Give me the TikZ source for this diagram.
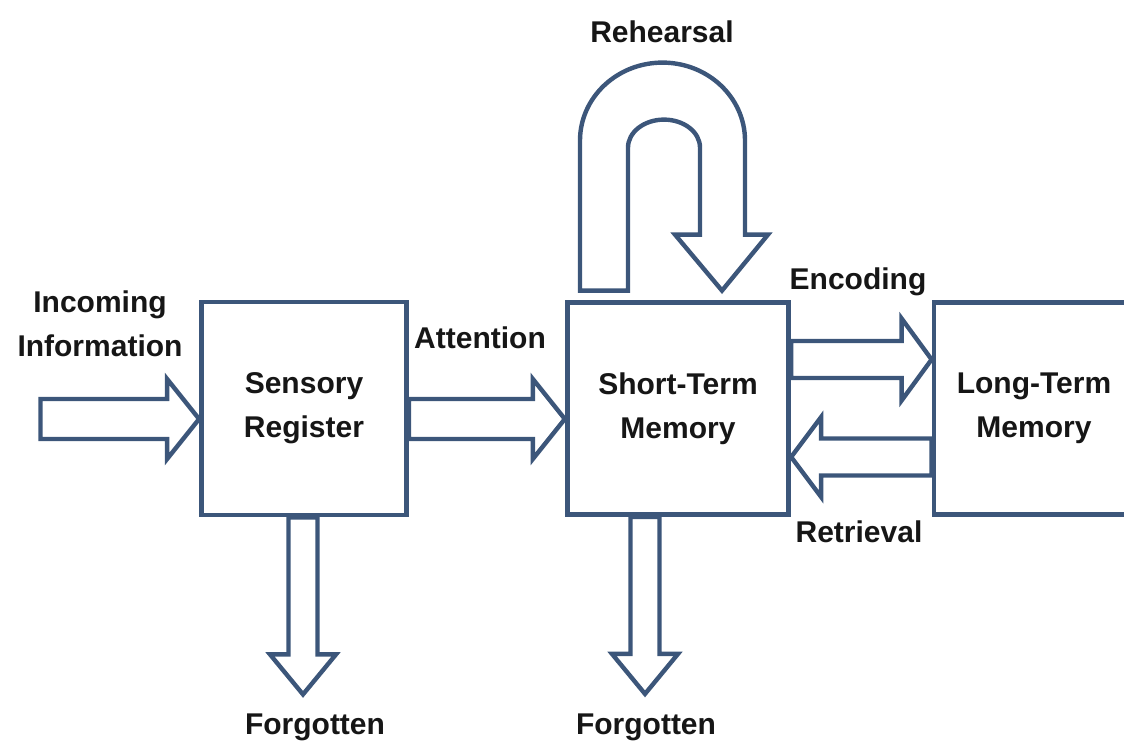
\documentclass[tikz,border=0pt]{standalone}
\usepackage{fontspec}
\setmainfont{Liberation Sans}
\usetikzlibrary{calc,positioning}
\definecolor{boxblue}{RGB}{60,86,122}
\definecolor{inkblack}{RGB}{22,22,22}
\tikzset{memory box/.style={draw=boxblue, line width=2.4pt, fill=white,
           align=center, text=inkblack, inner sep=0pt,
           font=\bfseries\fontsize{15}{22}\selectfont},
     block arrow/.style={draw=boxblue, line width=2.2pt, line join=miter},
     stage label/.style={text=inkblack, align=center, inner sep=0pt,
           font=\bfseries\fontsize{15}{22}\selectfont}
     }
% horizontal block arrow: tail #1, tip #2, shaft half #3, head half #4, head length #5
\def\SideArrow#1#2#3#4#5{%
 \draw[block arrow] ($(#1)-(0,#3)$) -- ($(#2)-(#5,#3)$) -- ($(#2)-(#5,#4)$) -- (#2)
   -- ($(#2)-(#5,-#4)$) -- ($(#2)-(#5,-#3)$) -- ($(#1)+(0,#3)$) -- cycle;
}
% downward block arrow, same arguments
\def\DropArrow#1#2#3#4#5{%
 \draw[block arrow] ($(#1)-(#3,0)$) -- ($(#2)-(#3,#5)$) -- ($(#2)-(#4,#5)$) -- (#2)
   -- ($(#2)+(#4,-#5)$) -- ($(#2)+(#3,-#5)$) -- ($(#1)+(#3,0)$) -- cycle;
}

\begin{document}
\begin{tikzpicture}[x=0.5pt, y=-0.5pt]
\useasboundingbox (0,0) rectangle (1124,748);

% stores
\node[memory box, minimum width=102.5pt, minimum height=106.5pt] (sensory) at (304,408.5) {Sensory\\Register};
\node[memory box, minimum width=110.75pt, minimum height=106pt] (stm) at (678,408.5) {Short-Term\\Memory};
\node[memory box, minimum width=100pt, minimum height=106pt] (ltm) at (1034,408.5) {Long-Term\\Memory};

% labels
\node[stage label] (incoming) at (100,324) {Incoming\\Information};
\node[stage label] (attention) at (480,338) {Attention};
\node[stage label] (rehearsal) at (662,32) {Rehearsal};
\node[stage label] (encoding) at (858,282) {Encoding};
\node[stage label] (retrieval) at (859,532) {Retrieval};
\node[stage label] (goneA) at (315,727) {Forgotten};
\node[stage label] (goneB) at (646,727) {Forgotten};

% flow
\coordinate (inflow) at (40.5,419);
\coordinate (inTip) at ($(sensory.west)+(0,10.5)$);
\SideArrow{inflow}{inTip}{20}{40}{32}
\coordinate (attTail) at ($(sensory.east)+(0,10.5)$);
\coordinate (attTip) at ($(stm.west)+(0,10.5)$);
\SideArrow{attTail}{attTip}{20}{40}{32}
\coordinate (encTail) at ($(stm.east)+(0,-49)$);
\coordinate (encTip) at ($(ltm.west)+(0,-49)$);
\SideArrow{encTail}{encTip}{18.5}{41}{30}
\coordinate (retTail) at ($(ltm.west)+(0,48.5)$);
\coordinate (retTip) at ($(stm.east)+(0,48.5)$);
\SideArrow{retTail}{retTip}{18.5}{40}{-30}

% decay
\coordinate (dropA) at ($(sensory.south)+(-1,0)$);
\coordinate (dropTipA) at ($(sensory.south)+(-1,177)$);
\DropArrow{dropA}{dropTipA}{14.5}{33}{40}
\coordinate (dropB) at ($(stm.south)+(-33,0)$);
\coordinate (dropTipB) at ($(stm.south)+(-33,177)$);
\DropArrow{dropB}{dropTipB}{14.5}{33}{40}

% rehearsal loop back into short-term memory
\begin{scope}[shift={(stm.north)}]
  \draw[block arrow] (-98,-9.5) -- (-98,-159.5)
    arc[start angle=180, end angle=360, x radius=82.5, y radius=78]
    -- (67,-65.5) -- (90,-65.5) -- (44,-9.5) -- (-3,-65.5) -- (22,-65.5) -- (22,-152.5)
    arc[start angle=0, end angle=-180, x radius=36, y radius=28]
    -- (-50,-9.5) -- cycle;
\end{scope}
\end{tikzpicture}
\end{document}
